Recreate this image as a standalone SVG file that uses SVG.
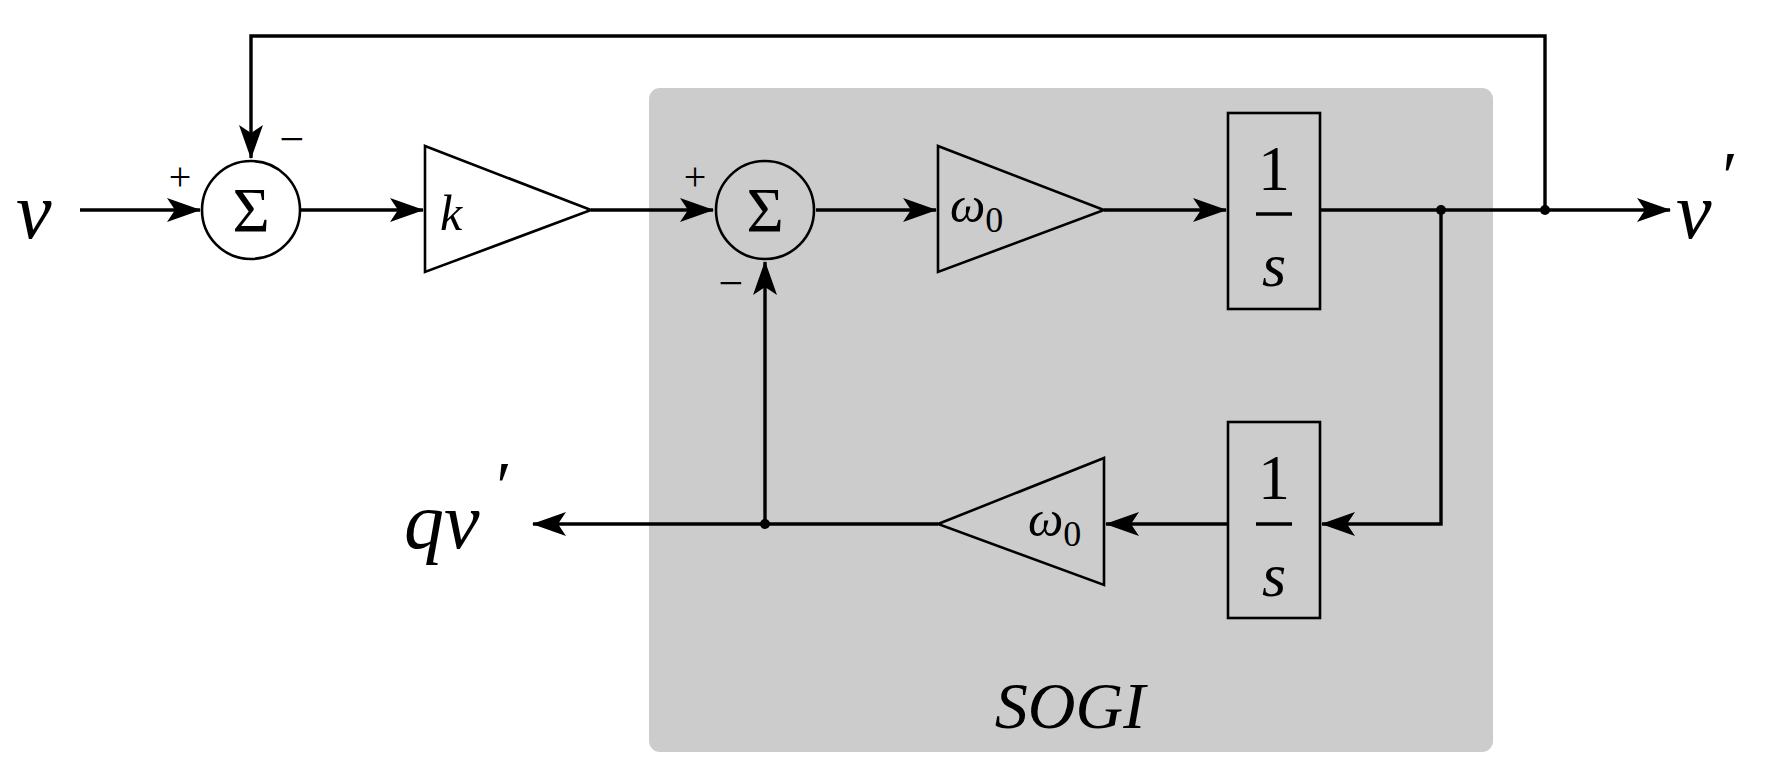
<svg xmlns="http://www.w3.org/2000/svg" width="1766" height="784" viewBox="0 0 1766 784">
<style>
.l{fill:none;stroke:#000;stroke-width:3.4}
.n{fill:none;stroke:#000;stroke-width:2.6}
.m{font-family:"Liberation Serif",serif;font-style:italic;fill:#000}
.r{font-family:"Liberation Serif",serif;fill:#000}
</style>
<defs>
<marker id="A" viewBox="0 0 34 24" refX="33" refY="12" markerWidth="34" markerHeight="24" orient="auto" markerUnits="userSpaceOnUse">
<path d="M0,0 L34,12 L0,24 L8,12 Z" fill="#000"/>
</marker>
</defs>
<rect width="1766" height="784" fill="#fff"/>
<rect id="sogi" x="649" y="88" width="844" height="664" rx="11" fill="#cccccc"/>
<text class="m" x="1070" y="728" font-size="66" text-anchor="middle">SOGI</text>
<g id="connectors">
<path class="l" d="M80,210 H200" marker-end="url(#A)"/>
<path class="l" d="M301,210 H423" marker-end="url(#A)"/>
<path class="l" d="M591,210 H713" marker-end="url(#A)"/>
<path class="l" d="M816,210 H936" marker-end="url(#A)"/>
<path class="l" d="M1104,210 H1226" marker-end="url(#A)"/>
<path class="l" d="M1320,210 H1670" marker-end="url(#A)"/>
<path class="l" d="M1545,210 V36 H251 V158" marker-end="url(#A)"/>
<path class="l" d="M1441,210 V524 H1322" marker-end="url(#A)"/>
<path class="l" d="M1228,524 H1106" marker-end="url(#A)"/>
<path class="l" d="M938,524 H533" marker-end="url(#A)"/>
<path class="l" d="M765,524 V262" marker-end="url(#A)"/>
<circle cx="765" cy="524" r="5"/>
<circle cx="1441" cy="210" r="5"/>
<circle cx="1545" cy="210" r="5"/>
</g>
<g id="sum1">
<circle class="n" cx="251" cy="210" r="49" fill="#fff"/>
<text class="r" x="251" y="232" font-size="64" text-anchor="middle">Σ</text>
<text class="r" x="180" y="190" font-size="40" text-anchor="middle">+</text>
<text class="r" x="292" y="154" font-size="44" text-anchor="middle">−</text>
</g>
<g id="gain-k">
<path class="n" d="M425,146 L591,210 L425,272 Z" fill="#fff"/>
<text class="m" x="440" y="230" font-size="50">k</text>
</g>
<g id="sum2">
<circle class="n" cx="765" cy="210" r="49" fill="#fff"/>
<text class="r" x="765" y="232" font-size="64" text-anchor="middle">Σ</text>
<text class="r" x="695" y="190" font-size="40" text-anchor="middle">+</text>
<text class="r" x="731" y="298" font-size="44" text-anchor="middle">−</text>
</g>
<g id="gain-w1">
<path class="n" d="M938,146 L1104,210 L938,272 Z" fill="#ccc"/>
<text class="m" x="950" y="222" font-size="50">ω<tspan class="r" font-style="normal" font-size="36" dy="10">0</tspan></text>
</g>
<g id="int1">
<rect class="n" x="1228" y="113" width="92" height="196" fill="#ccc"/>
<text class="r" x="1274" y="190" font-size="64" text-anchor="middle">1</text>
<path class="l" d="M1256,214 H1292"/>
<text class="m" x="1274" y="286" font-size="62" text-anchor="middle">s</text>
</g>
<g id="int2">
<rect class="n" x="1228" y="422" width="92" height="196" fill="#ccc"/>
<text class="r" x="1274" y="499" font-size="64" text-anchor="middle">1</text>
<path class="l" d="M1256,524 H1292"/>
<text class="m" x="1274" y="596" font-size="62" text-anchor="middle">s</text>
</g>
<g id="gain-w2">
<path class="n" d="M1104,458 L938,524 L1104,585 Z" fill="#ccc"/>
<text class="m" x="1028" y="536" font-size="50">ω<tspan class="r" font-style="normal" font-size="36" dy="10">0</tspan></text>
</g>
<g id="labels">
<text class="m" x="16" y="238" font-size="80">v</text>
<text class="m" x="1676" y="238" font-size="80">v</text>
<text class="m" x="1718" y="200" font-size="70">′</text>
<text class="m" x="404" y="548" font-size="80">qv</text>
<text class="m" x="492" y="510" font-size="70">′</text>
</g>
</svg>
